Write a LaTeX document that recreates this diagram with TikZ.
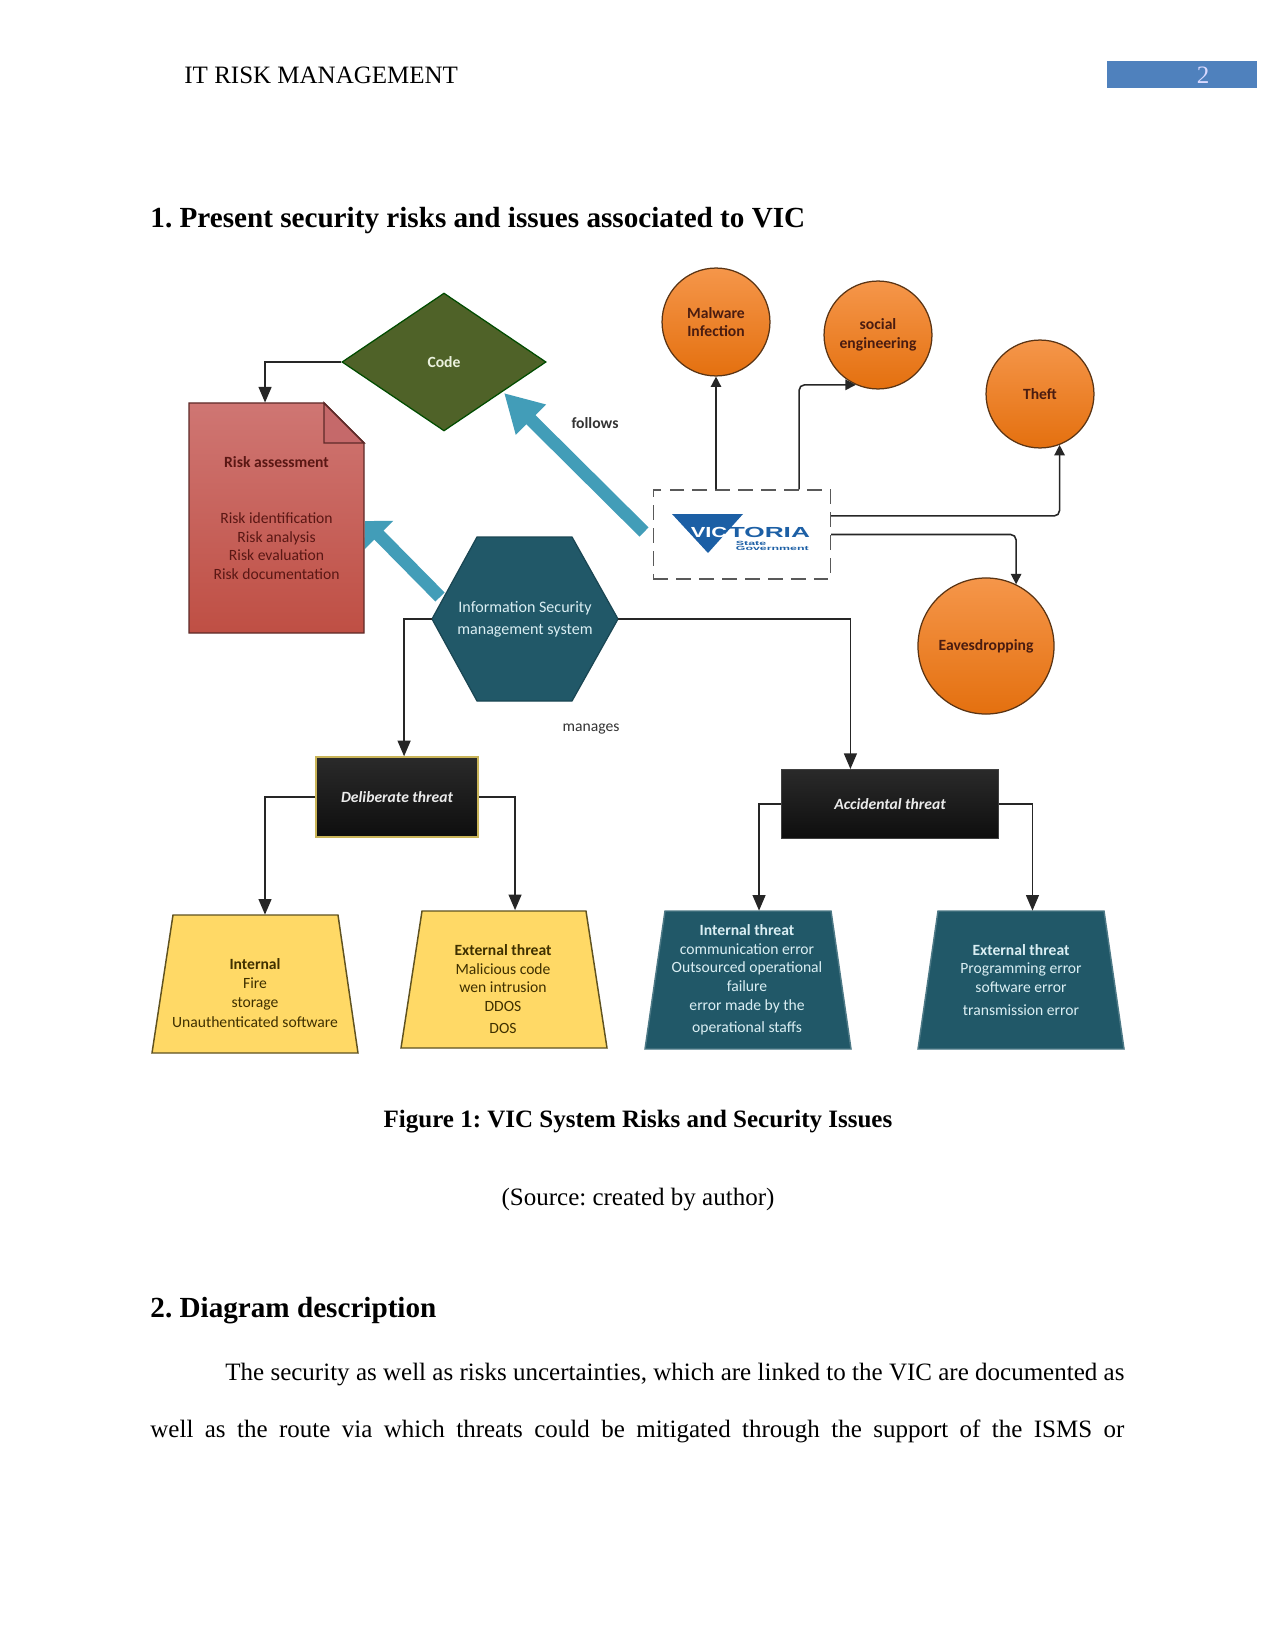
\documentclass[tikz,border=0pt]{standalone}
\usepackage{fontspec}
\setmainfont{Liberation Serif}
\newfontfamily\carlito{Carlito}
\newfontfamily\logofont{Liberation Sans}
\usetikzlibrary{arrows.meta,shapes.geometric}
\newcommand\chartfont{\carlito\fontsize{7.5}{9}\selectfont}
\definecolor{tealdark}{HTML}{215868}
\definecolor{tealtext}{HTML}{DAEEF3}
\definecolor{arrowblue}{HTML}{429DB8}
\definecolor{oliveshape}{HTML}{4F6228}
\definecolor{logoblue}{HTML}{1C5FA5}
\definecolor{linegrey}{HTML}{262626}
\definecolor{pageblue}{HTML}{4F81BD}
\definecolor{balltop}{HTML}{F5964A}
\definecolor{ballbottom}{HTML}{E4700F}
\definecolor{balltext}{HTML}{4A1C10}
\definecolor{balledge}{HTML}{5A3414}
\definecolor{doctop}{HTML}{CF7673}
\definecolor{docbottom}{HTML}{BF4F44}
\definecolor{docfold}{HTML}{C5696A}
\definecolor{docedge}{HTML}{5E2A28}
\definecolor{doctext}{HTML}{5A1714}
\definecolor{boxtop}{HTML}{2A2A2A}
\definecolor{boxbottom}{HTML}{0E0E0E}
\definecolor{boxyellow}{HTML}{C9B458}
\definecolor{trapyellow}{HTML}{FFD966}
\definecolor{trapedge}{HTML}{5F5220}
\definecolor{traptext}{HTML}{3F3000}
\definecolor{codetext}{HTML}{EBF1DE}
\tikzset{
  wire/.style={draw=linegrey,line width=.75pt,-{Triangle[length=7.5pt,width=6.2pt]}},
  softwire/.style={wire,rounded corners=2.6pt,-{Triangle[length=5pt,width=5pt]}},
  bigarrow/.style={draw=arrowblue,line width=6.2pt},
  riskball/.style={circle,draw=balledge,line width=.6pt,top color=balltop,bottom color=ballbottom,inner sep=0pt,align=center,font=\chartfont\bfseries,text=balltext},
  threatbox/.style={rectangle,top color=boxtop,bottom color=boxbottom,inner sep=0pt,align=center,font=\chartfont\bfseries\itshape,text=white!92!black},
  panelport/.style={rectangle,inner sep=0pt,minimum width=98.9pt,minimum height=66.2pt},
  yellowtrap/.style={draw=trapedge,line width=.7pt,fill=trapyellow},
  tealtrap/.style={draw=tealdark!80!white,line width=.7pt,fill=tealdark},
  darklabel/.style={align=center,font=\chartfont,text=traptext,inner sep=0pt},
  lightlabel/.style={align=center,font=\chartfont,text=tealtext,inner sep=0pt},
  pagetext/.style={anchor=base west,inner sep=0pt,font=\fontsize{12}{14}\selectfont},
  pagehead/.style={anchor=base west,inner sep=0pt,font=\fontsize{14}{16}\selectfont\bfseries},
  pagecentre/.style={anchor=base,inner sep=0pt,font=\fontsize{12}{14}\selectfont},
}
\begin{document}
\frenchspacing
\begin{tikzpicture}[x=0.48pt,y=-0.48pt]
\useasboundingbox (0,0) rectangle (1275,1650);

% page header
\node[pagetext] (header) at (184,84) {IT RISK MANAGEMENT};
\fill[pageblue] (1106.5,61) rectangle (1256.5,88.5);
\node[pagecentre,text=white!85!blue] (pagenum) at (1203,84) {2};

% section headings and captions
\node[pagehead] (secone) at (150,228) {1. Present security risks and issues associated to VIC};
\node[pagecentre,font=\fontsize{12}{14}\selectfont\bfseries] (figcap) at (638,1127) {Figure 1: VIC System Risks and Security Issues};
\node[pagecentre] (figsrc) at (638,1205) {(Source: created by author)};
\node[pagehead] (sectwo) at (150,1317) {2. Diagram description};
\node[pagetext] (parone) at (225,1380) {\makebox[431.5pt][s]{The security as well as risks uncertainties, which are linked to the VIC are documented as}};
\node[pagetext] (partwo) at (150,1437) {\makebox[467.5pt][s]{well as the route via which threats could be mitigated through the support of the ISMS or}};

% wide arrows sit under the shapes they touch
\coordinate (codetip) at (504,393);
\coordinate (vicfoot) at (644,532);
\coordinate (doctip) at (365,521);
\coordinate (hexfoot) at (440,597);
\draw[bigarrow,-{Triangle[length=18.2pt,width=19.2pt]}] (vicfoot) -- (codetip);
\draw[bigarrow,-{Triangle[length=9.5pt,width=18.8pt]}] (hexfoot) -- (doctip);

% dog-eared risk document
\path[draw=docedge,line width=.7pt,top color=doctop,bottom color=docbottom]
  (189,403) -- (324,403) -- (364,443) -- (364,633) -- (189,633) -- cycle;
\path[draw=docedge,line width=.7pt,fill=docfold] (324,403) -- (324,443) -- (364,443) -- cycle;
\node[minimum width=84pt,minimum height=110.4pt,inner sep=0pt,align=center,font=\chartfont,text=doctext] (doc) at (276.5,518)
  {{\bfseries Risk assessment}\\[18pt]Risk identification\\Risk analysis\\Risk evaluation\\Risk documentation};

% central shapes
\node[diamond,aspect=1.48,draw=black!70!green,line width=.6pt,fill=oliveshape,minimum width=98pt,minimum height=66.2pt,inner sep=0pt,font=\chartfont\bfseries,text=codetext] (code) at (444,362) {Code};
\path[draw=tealdark!80!black,line width=.6pt,fill=tealdark] (432,619) -- (477,537) -- (572,537) -- (618,619) -- (572,701) -- (477,701) -- cycle;
\node[rectangle,minimum width=89.3pt,minimum height=78.7pt,inner sep=0pt,align=center,font=\carlito\fontsize{7.7}{10.4}\selectfont,text=tealtext] (isms) at (525,619) {Information Security\\management system};

% Victoria logo box
\node[rectangle,draw=black!65,dash pattern=on 7pt off 4pt,line width=.6pt,minimum width=85pt,minimum height=42.7pt,inner sep=0pt] (vic) at (742,534.5) {};
\path[fill=logoblue] (672,514) -- (743,514) -- (708,553) -- cycle;
\node[inner sep=0pt,text=white,font=\logofont\bfseries\fontsize{7}{7}\selectfont,xscale=1.5] (vicleft) at (709,532) {VIC};
\node[inner sep=0pt,text=logoblue,font=\logofont\bfseries\fontsize{7}{7}\selectfont,xscale=1.8,anchor=west] (vicright) at (728,532) {TORIA};
\node[inner sep=0pt,text=logoblue,font=\logofont\bfseries\fontsize{2.9}{3}\selectfont,xscale=2.05,align=left,anchor=west] (vicgov) at (735,546) {State\\[-.4pt]Government};

% risk circles
\node[riskball,minimum size=51.8pt] (malware) at (716,322) {Malware\\Infection};
\node[riskball,minimum size=51.8pt] (social) at (878,335) {social\\engineering};
\node[riskball,minimum size=51.8pt] (theft) at (1040,394) {Theft};
\node[riskball,minimum size=65.3pt] (eaves) at (986,646) {Eavesdropping};

% threat headers
\node[threatbox,draw=boxyellow,line width=.7pt,minimum width=77.8pt,minimum height=38.4pt] (delib) at (397,797) {Deliberate threat};
\node[threatbox,draw=black!75,line width=.5pt,minimum width=104.2pt,minimum height=33.1pt] (accid) at (890,804) {Accidental threat};

% threat detail panels: slanted outline, then a named box carrying the connector ends
\path[yellowtrap] (173,915) -- (338,915) -- (358,1053) -- (152,1053) -- cycle;
\path[yellowtrap] (422,911) -- (586,911) -- (607,1048) -- (401,1048) -- cycle;
\path[tealtrap] (665,911) -- (831,911) -- (851,1049) -- (645,1049) -- cycle;
\path[tealtrap] (938,911) -- (1104,911) -- (1124,1049) -- (918,1049) -- cycle;
\node[panelport] (intdel) at (255,984) {};
\node[panelport] (extdel) at (504,979.5) {};
\node[panelport] (intacc) at (748,980) {};
\node[panelport] (extacc) at (1021,980) {};

\node[darklabel] (intdeltext) at (255,993.5) {{\bfseries Internal}\\Fire\\storage\\[.9pt]Unauthenticated software};
\node[darklabel] (extdeltext) at (503,989) {{\bfseries External threat}\\Malicious code\\wen intrusion\\DDOS\\[1.5pt]DOS};
\node[lightlabel] (intacctext) at (747,979.5) {{\bfseries Internal threat}\\communication error\\Outsourced operational\\failure\\error made by the\\[1.5pt]operational staffs};
\node[lightlabel] (extacctext) at (1021,980) {{\bfseries External threat}\\Programming error\\software error\\[2pt]transmission error};

% free labels
\node[inner sep=0pt,font=\chartfont\bfseries,text=black!80] (follows) at (595,423) {follows};
\node[inner sep=0pt,font=\chartfont,text=black!80] (manages) at (591,729) {manages};

% connectors
\draw[wire] (code.west) -| ([xshift=-5.5pt]doc.north);
\draw[wire] (isms.west) -| ([xshift=3.4pt]delib.north);
\draw[wire] (isms.east) -| ([xshift=-19pt]accid.north);
\draw[wire] (delib.west) -| ([xshift=4.8pt]intdel.north);
\draw[wire] (delib.east) -| ([xshift=5.3pt]extdel.north);
\draw[wire] (accid.west) -| ([xshift=5.3pt]intacc.north);
\draw[wire] (accid.east) -| ([xshift=5.5pt]extacc.north);

\draw[softwire] ([xshift=-12.48pt]vic.north) -- (malware.south);
\draw[softwire] ([xshift=27.4pt]vic.north) |- (social.-114);
\draw[softwire] ([yshift=8.9pt]vic.east) -| (theft.-69);
\draw[softwire] (vic.east) -| (eaves.64);
\end{tikzpicture}
\end{document}
